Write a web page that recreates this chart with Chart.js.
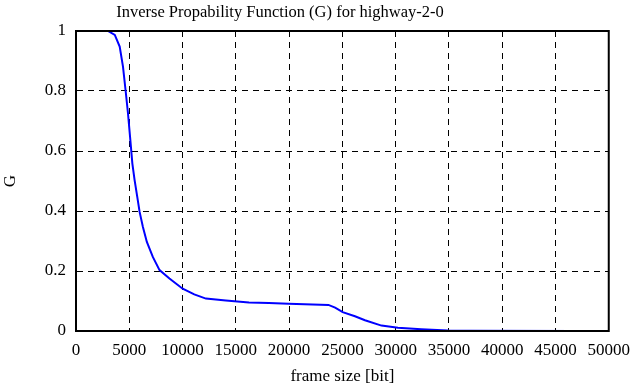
<!DOCTYPE html>
<html>
<head>
<meta charset="utf-8">
<script src="https://cdn.jsdelivr.net/npm/chart.js@4/dist/chart.umd.min.js"></script>
<style>
  html, body { margin: 0; padding: 0; background: #fff; }
  #wrap { width: 639px; height: 387px; }
</style>
</head>
<body>
<div id="wrap"><canvas id="graficoG"></canvas></div>
<script>
// ---- dados

// tamanho do quadro [bit]
const frameSize = [3000, 3640, 4100, 4410, 4660, 4880, 5100, 5290, 5500, 5750, 5970, 6280, 6650, 7210, 7840, 8770, 10010, 11100, 12190, 14060, 16230, 18100, 19960, 23690, 24320, 25030, 26180, 27120, 28670, 30220, 32400, 34890, 37000, 46860];
// valores de G
const valoresG = [1.0, 0.987, 0.948, 0.881, 0.80, 0.725, 0.636, 0.558, 0.503, 0.447, 0.397, 0.347, 0.297, 0.247, 0.203, 0.175, 0.141, 0.122, 0.108, 0.102, 0.095, 0.093, 0.091, 0.087, 0.078, 0.063, 0.049, 0.036, 0.018, 0.011, 0.006, 0.002, 0.001, 0.0];

const xTicks = [0, 5000, 10000, 15000, 20000, 25000, 30000, 35000, 40000, 45000, 50000];
const yTicks = [0, 0.2, 0.4, 0.6, 0.8, 1];

const titulo = 'Inverse Propability Function (G) for highway-2-0';
const fonte = "'Liberation Serif', 'Times New Roman', serif";

const pontos = frameSize.map((x, i) => ({ x: x, y: valoresG[i] }));

const ctx = document.getElementById('graficoG').getContext('2d');

let graficoG = new Chart(ctx, {
    type: 'line',
    data: {
        datasets: [{
            label: 'G',
            data: pontos,
            borderColor: '#0000ff',
            borderWidth: 2,
            pointRadius: 0,
            fill: false,
            tension: 0
        }]
    },
    options: {
        responsive: true,
        maintainAspectRatio: false,
        animation: false,
        layout: { padding: { left: 0, right: 27, top: 31, bottom: 0 } },
        plugins: {
            legend: { display: false },
            tooltip: { enabled: false },
            title: { display: false }
        },
        scales: {
            x: {
                type: 'linear',
                min: 0,
                max: 50000,
                afterBuildTicks: (s) => { s.ticks = xTicks.map(v => ({ value: v })); },
                afterFit: (s) => { s.height = 56; },
                grid: {
                    color: '#000',
                    lineWidth: 1,
                    drawTicks: false
                },
                border: { color: '#000', width: 2, dash: [6, 5] },
                ticks: {
                    color: '#000',
                    padding: 9,
                    maxRotation: 0,
                    autoSkip: false,
                    font: { family: fonte, size: 17 },
                    callback: (v) => String(v)
                },
                title: {
                    display: true,
                    text: 'frame size [bit]',
                    color: '#000',
                    font: { family: fonte, size: 17 },
                    padding: { top: 3, bottom: 0 }
                }
            },
            y: {
                min: 0,
                max: 1,
                afterBuildTicks: (s) => { s.ticks = yTicks.map(v => ({ value: v })); },
                afterFit: (s) => { s.width = 76; },
                grid: {
                    color: '#000',
                    lineWidth: 1,
                    drawTicks: false
                },
                border: { color: '#000', width: 2, dash: [6, 5] },
                ticks: {
                    color: '#000',
                    padding: 10,
                    font: { family: fonte, size: 17 },
                    callback: (v) => String(v)
                },
                title: {
                    display: true,
                    text: 'G',
                    color: '#000',
                    font: { family: fonte, size: 17 },
                    padding: { top: 0, bottom: 22 }
                }
            }
        }
    },
    plugins: [{
        // moldura sólida e título
        id: 'moldura',
        afterDraw(chart) {
            const a = chart.chartArea;
            const c = chart.ctx;
            c.save();
            c.setLineDash([]);
            c.strokeStyle = '#000';
            c.lineWidth = 2;
            c.strokeRect(a.left, a.top, a.right - a.left, a.bottom - a.top);
            c.fillStyle = '#000';
            c.font = '16.5px ' + fonte;
            c.textAlign = 'center';
            c.textBaseline = 'middle';
            c.fillText(titulo, 280, 13);
            c.restore();
        }
    }]
});
</script>
</body>
</html>
